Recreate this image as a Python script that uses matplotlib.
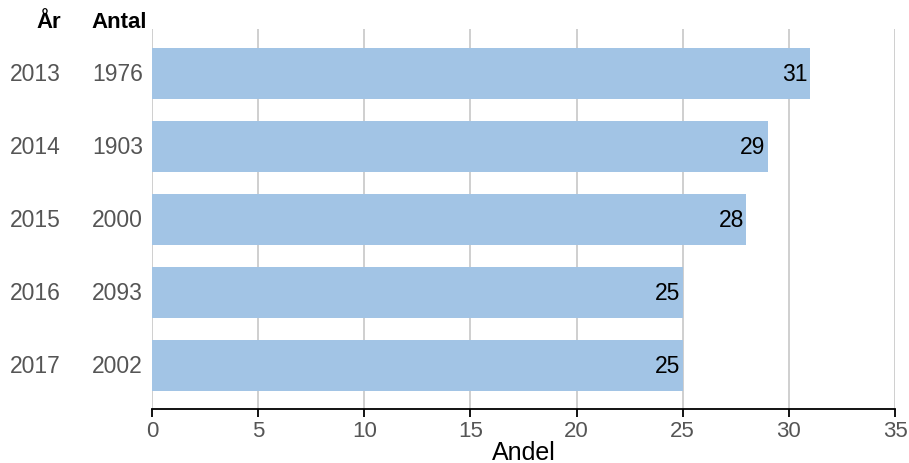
import matplotlib
matplotlib.use('Agg')
import matplotlib.pyplot as plt

plt.rcParams['font.family'] = ['Liberation Sans', 'DejaVu Sans']

ar = ['2013', '2014', '2015', '2016', '2017']
antal = ['1976', '1903', '2000', '2093', '2002']
andel = [31, 29, 28, 25, 25]

fig = plt.figure(figsize=(9.09, 4.64), dpi=100)
ax = fig.add_axes([0.1672, 0.1165, 0.8174, 0.818])

y = range(len(ar))
ax.barh(y, andel, height=0.7, color='#a2c4e5', zorder=2)
for yi, v in zip(y, andel):
    ax.text(v - 0.1, yi, str(v), ha='right', va='center', fontsize=16.5, color='black', zorder=3)

ax.set_xlim(0, 35)
ax.set_ylim(4.6, -0.6)
ax.set_xticks(range(0, 36, 5))
ax.grid(axis='x', color='#cccccc', linewidth=1.3, zorder=0)
for s in ['top', 'right', 'left']:
    ax.spines[s].set_visible(False)
ax.spines['bottom'].set_color('black')
ax.spines['bottom'].set_linewidth(1.3)
ax.tick_params(axis='x', colors='black', labelcolor='#555555', labelsize=16, length=6, width=1.3, pad=2)
ax.set_yticks([])
ax.set_xlabel('Andel', fontsize=18, color='black', labelpad=-1)

trans = ax.get_yaxis_transform()
for yi, a, n in zip(y, ar, antal):
    ax.text(-0.123, yi, a, transform=trans, ha='right', va='center', fontsize=16.5, color='#555555')
    ax.text(-0.012, yi, n, transform=trans, ha='right', va='center', fontsize=16.5, color='#555555')
fig.text(61 / 909, 1 - 23 / 464, 'År', ha='right', va='center', fontsize=16, fontweight='bold')
fig.text(147 / 909, 1 - 23 / 464, 'Antal', ha='right', va='center', fontsize=16, fontweight='bold')

fig.savefig('out.png', dpi=100)
